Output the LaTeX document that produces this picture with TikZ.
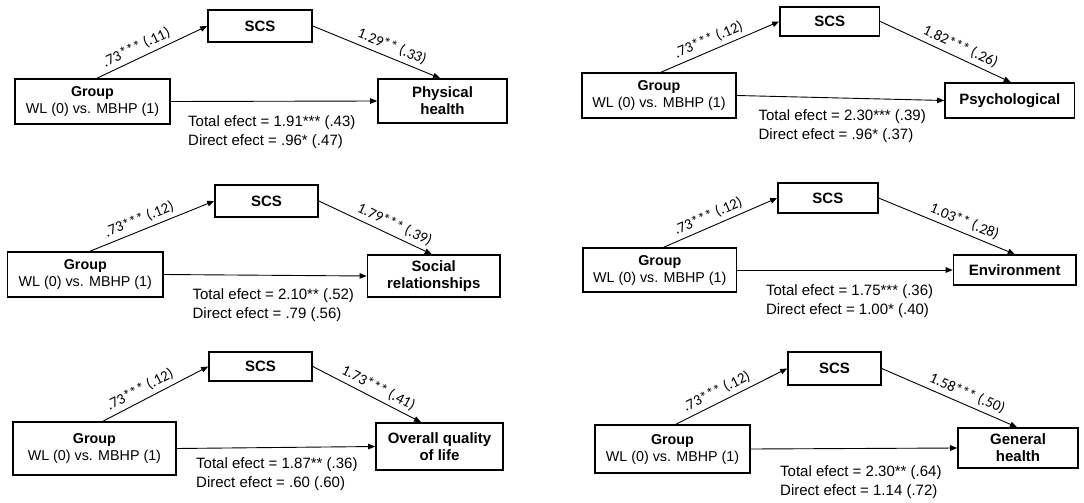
\documentclass[tikz,border=0pt]{standalone}
\usepackage{fontspec}
\setmainfont{Liberation Sans}
\newfontfamily\calib{Carlito}
\usetikzlibrary{arrows.meta}
\tikzset{
  box/.style={draw, line width=1.6pt, inner sep=0pt, align=center, font=\bfseries\fontsize{15}{17}\selectfont},
  grp/.style={draw, line width=1.6pt, inner sep=0pt, align=center, font=\fontsize{14.3}{17}\selectfont},
  arr/.style={line width=0.9pt, -{Triangle[length=7pt,width=5.5pt]}},
  coef/.style={sloped, above=3pt, inner sep=1pt, font=\calib\fontsize{15}{17}\selectfont},
  eff/.style={anchor=west, align=left, inner sep=0pt, font=\fontsize{15}{19}\selectfont},
}
\begin{document}
\begin{tikzpicture}[x=1pt,y=-1pt]
\useasboundingbox[fill=white] (0,0) rectangle (1084,503);

% ---------- top left: Physical health
\node[grp, minimum width=155pt, minimum height=45pt] (tlG) at (92.5,101.5) {\textbf{Group}\\WL (0) vs. MBHP (1)};
\node[box, minimum width=104pt, minimum height=32pt] (tlS) at (260,26) {SCS};
\node[box, minimum width=129pt, minimum height=44pt] (tlO) at (442.5,101) {Physical\\health};
\draw[arr] ([xshift=4.5pt]tlG.north) -- node[coef, pos=0.4] {.73*** (.11)} (tlS.west);
\draw[arr] (tlS.east) -- node[coef, pos=0.59] {1.29** (.33)} ([xshift=-2.5pt]tlO.north);
\draw[arr] (tlG.east) -- (tlO.west);
\node[eff] (tlE) at (188,132.5) {Total efect = 1.91*** (.43)\\Direct efect = .96* (.47)};

% ---------- top right: Psychological
\node[grp, minimum width=154pt, minimum height=45pt] (trG) at (659,95.5) {\textbf{Group}\\WL (0) vs. MBHP (1)};
\node[box, minimum width=99.5pt, minimum height=29pt] (trS) at (829.75,21.5) {SCS};
\node[box, minimum width=129.5pt, minimum height=35pt] (trO) at (1009.75,100.5) {Psychological};
\draw[arr] ([xshift=2pt]trG.north) -- node[coef, pos=0.44] {.73*** (.12)} (trS.west);
\draw[arr] (trS.east) -- node[coef, pos=0.58] {1.82*** (.26)} ([xshift=1pt]trO.north);
\draw[arr] (trG.east) -- (trO.west);
\node[eff] (trE) at (758.4,126.5) {Total efect = 2.30*** (.39)\\Direct efect = .96* (.37)};

% ---------- middle left: Social relationships
\node[grp, minimum width=155.4pt, minimum height=45pt] (mlG) at (85.3,274.5) {\textbf{Group}\\WL (0) vs. MBHP (1)};
\node[box, minimum width=103pt, minimum height=32pt] (mlS) at (266.5,201) {SCS};
\node[box, minimum width=132.5pt, minimum height=42pt] (mlO) at (433.75,276) {Social\\relationships};
\draw[arr] ([xshift=4.7pt]mlG.north) -- node[coef, pos=0.43] {.73*** (.12)} (mlS.west);
\draw[arr] (mlS.east) -- node[coef, pos=0.63] {1.79*** (.39)} ([xshift=-2pt]mlO.north);
\draw[arr] (mlG.east) -- (mlO.west);
\node[eff] (mlE) at (192.4,305.5) {Total efect = 2.10** (.52)\\Direct efect = .79 (.56)};

% ---------- middle right: Environment
\node[grp, minimum width=153.6pt, minimum height=44pt] (mrG) at (659.8,270) {\textbf{Group}\\WL (0) vs. MBHP (1)};
\node[box, minimum width=99.8pt, minimum height=30pt] (mrS) at (827.9,198) {SCS};
\node[box, minimum width=122.5pt, minimum height=30pt] (mrO) at (1014.75,270) {Environment};
\draw[arr] ([xshift=4pt]mrG.north) -- node[coef, pos=0.43] {.73*** (.12)} (mrS.west);
\draw[arr] (mrS.east) -- node[coef, pos=0.6] {1.03** (.28)} (mrO.north);
\draw[arr] (mrG.east) -- (mrO.west);
\node[eff] (mrE) at (765.8,301) {Total efect = 1.75*** (.36)\\Direct efect = 1.00* (.40)};

% ---------- bottom left: Overall quality of life
\node[grp, minimum width=163.2pt, minimum height=53pt] (blG) at (94.4,448.5) {\textbf{Group}\\WL (0) vs. MBHP (1)};
\node[box, minimum width=103pt, minimum height=29pt] (blS) at (260.5,366.5) {SCS};
\node[box, minimum width=127pt, minimum height=47pt] (blO) at (439.5,446.5) {Overall quality\\of life};
\draw[arr] ([xshift=8.6pt]blG.north) -- node[coef, pos=0.4] {.73*** (.12)} (blS.west);
\draw[arr] (blS.east) -- node[coef, pos=0.56] {1.73*** (.41)} ([xshift=-18.5pt]blO.north);
\draw[arr] (blG.east) -- (blO.west);
\node[eff] (blE) at (196,474.5) {Total efect = 1.87** (.36)\\Direct efect = .60 (.60)};

% ---------- bottom right: General health
\node[grp, minimum width=155pt, minimum height=48pt] (brG) at (672.5,449) {\textbf{Group}\\WL (0) vs. MBHP (1)};
\node[box, minimum width=93pt, minimum height=33pt] (brS) at (834.5,368.5) {SCS};
\node[box, minimum width=120pt, minimum height=40pt] (brO) at (1018,448) {General\\health};
\draw[arr] ([xshift=3.5pt]brG.north) -- node[coef, pos=0.41] {.73*** (.12)} (brS.west);
\draw[arr] (brS.east) -- node[coef, pos=0.6] {1.58*** (.50)} ([xshift=-1pt]brO.north);
\draw[arr] (brG.east) -- (brO.west);
\node[eff] (brE) at (780,482.5) {Total efect = 2.30** (.64)\\Direct efect = 1.14 (.72)};
\end{tikzpicture}
\end{document}
